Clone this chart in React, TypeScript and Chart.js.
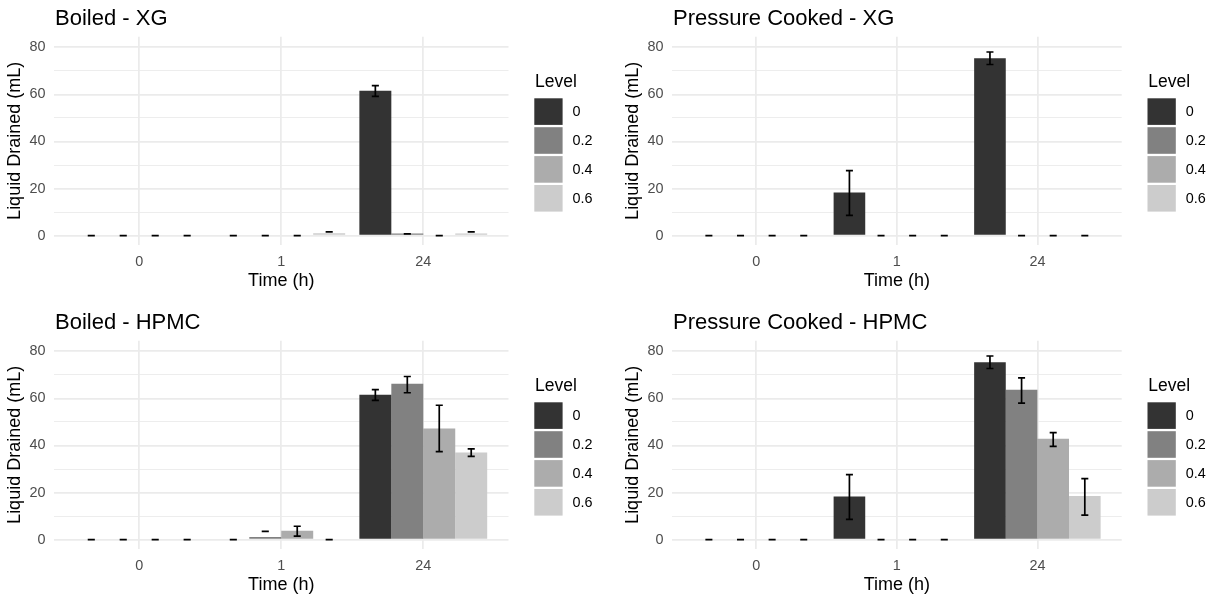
import React, { useEffect, useRef } from "react";
import { Chart, registerables } from "chart.js";

Chart.register(...registerables);

const FONT = '"Liberation Sans", Arial, Helvetica, sans-serif';

// x categories (sampling time) and fill levels
const timeLabels = ["0", "1", "24"];
const levelLabels = ["0", "0.2", "0.4", "0.6"];
const levelColors = ["#333333", "#818181", "#ACACAC", "#CCCCCC"];
const yTicks = [0, 10, 20, 30, 40, 50, 60, 70, 80];

// Boiled - XG: rows are levels, columns are times
const boiledXgMean = [
  [0, 0, 61.6],
  [0, 0, 0.9],
  [0, 0, 0],
  [0, 1.0, 0.9],
];
const boiledXgLow = [
  [0, 0, 59.2],
  [0, 0, 0.8],
  [0, 0, 0],
  [0, 1.6, 1.6],
];
const boiledXgHigh = [
  [0, 0, 63.7],
  [0, 0, 0.8],
  [0, 0, 0],
  [0, 1.6, 1.6],
];

// Pressure Cooked - XG
const pressureXgMean = [
  [0, 18.3, 75.4],
  [0, 0, 0],
  [0, 0, 0],
  [0, 0, 0],
];
const pressureXgLow = [
  [0, 8.6, 72.7],
  [0, 0, 0],
  [0, 0, 0],
  [0, 0, 0],
];
const pressureXgHigh = [
  [0, 27.6, 78.0],
  [0, 0, 0],
  [0, 0, 0],
  [0, 0, 0],
];

// Boiled - HPMC
const boiledHpmcMean = [
  [0, 0, 61.6],
  [0, 1.1, 66.2],
  [0, 3.8, 47.2],
  [0, 0, 37.0],
];
const boiledHpmcLow = [
  [0, 0, 59.2],
  [0, 3.5, 62.4],
  [0, 1.5, 37.4],
  [0, 0, 35.4],
];
const boiledHpmcHigh = [
  [0, 0, 63.7],
  [0, 3.5, 69.3],
  [0, 5.7, 57.1],
  [0, 0, 38.6],
];

// Pressure Cooked - HPMC
const pressureHpmcMean = [
  [0, 18.3, 75.4],
  [0, 0, 63.7],
  [0, 0, 42.9],
  [0, 0, 18.6],
];
const pressureHpmcLow = [
  [0, 8.6, 72.7],
  [0, 0, 58.0],
  [0, 0, 39.6],
  [0, 0, 10.4],
];
const pressureHpmcHigh = [
  [0, 27.6, 78.0],
  [0, 0, 68.7],
  [0, 0, 45.5],
  [0, 0, 25.9],
];

const AREA_LEFT = 54;
const AREA_TOP = 36.7;
const AREA_BOTTOM = 245;

// error bars (mean +/- spread) drawn on top of all bars
const errorBarPlugin = {
  id: "errorBars",
  afterDatasetsDraw(chart: any) {
    const { ctx } = chart;
    const y = chart.scales.y;
    ctx.save();
    ctx.strokeStyle = "#000000";
    ctx.lineWidth = 1.7;
    ctx.lineCap = "butt";
    chart.data.datasets.forEach((ds: any, di: number) => {
      const meta = chart.getDatasetMeta(di);
      meta.data.forEach((bar: any, i: number) => {
        const lo = y.getPixelForValue(ds.errLow[i]);
        const hi = y.getPixelForValue(ds.errHigh[i]);
        const half = (bar.width * (0.2 / 0.9)) / 2;
        ctx.beginPath();
        if (Math.abs(hi - lo) > 0.01) {
          ctx.moveTo(bar.x, lo);
          ctx.lineTo(bar.x, hi);
        }
        ctx.moveTo(bar.x - half, lo);
        ctx.lineTo(bar.x + half, lo);
        ctx.moveTo(bar.x - half, hi);
        ctx.lineTo(bar.x + half, hi);
        ctx.stroke();
      });
    });
    ctx.restore();
  },
};

// panel title, left aligned with the plotting area
const panelTitlePlugin = {
  id: "panelTitle",
  afterDraw(chart: any, _args: any, opts: any) {
    const { ctx, chartArea } = chart;
    ctx.save();
    ctx.font = `22px ${FONT}`;
    ctx.fillStyle = "#000000";
    ctx.textAlign = "left";
    ctx.textBaseline = "alphabetic";
    ctx.fillText(opts.text, chartArea.left + 1, 24.5);
    ctx.restore();
  },
};

// "Level" key with stacked fill swatches
const levelLegendPlugin = {
  id: "levelLegend",
  afterDraw(chart: any) {
    const { ctx, chartArea } = chart;
    const x0 = chartArea.right + 25.8;
    const y0 = chartArea.top;
    ctx.save();
    ctx.fillStyle = "#000000";
    ctx.font = `17.5px ${FONT}`;
    ctx.textAlign = "left";
    ctx.textBaseline = "alphabetic";
    ctx.fillText("Level", x0 + 0.7, y0 + 50);
    ctx.font = `14.4px ${FONT}`;
    ctx.textBaseline = "middle";
    chart.data.datasets.forEach((ds: any, i: number) => {
      const top = y0 + 61.6 + i * 28.9;
      ctx.fillStyle = ds.backgroundColor;
      ctx.fillRect(x0, top, 28.3, 26.6);
      ctx.fillStyle = "#000000";
      ctx.fillText(ds.label, x0 + 38.3, top + 13.8);
    });
    ctx.restore();
  },
};

type PanelProps = {
  title: string;
  mean: number[][];
  low: number[][];
  high: number[][];
  left: number;
  top: number;
  width: number;
  height: number;
  areaRight: number;
};

function Panel({ title, mean, low, high, left, top, width, height, areaRight }: PanelProps) {
  const canvasRef = useRef<HTMLCanvasElement | null>(null);

  useEffect(() => {
    if (!canvasRef.current) return;
    const chart = new Chart(canvasRef.current, {
      type: "bar",
      data: {
        datasets: levelLabels.map((label, li) => ({
          label,
          data: timeLabels.map((_, ti) => ({ x: ti + 1, y: mean[li][ti] })),
          errLow: low[li],
          errHigh: high[li],
          backgroundColor: levelColors[li],
          borderWidth: 0,
          categoryPercentage: 0.9,
          barPercentage: 1,
        })) as any,
      },
      options: {
        responsive: false,
        animation: false,
        devicePixelRatio: 1,
        events: [],
        layout: {
          padding: { left: 0, top: AREA_TOP, right: width - areaRight, bottom: 0 },
        },
        plugins: {
          legend: { display: false },
          tooltip: { enabled: false },
          panelTitle: { text: title },
        } as any,
        scales: {
          x: {
            type: "linear",
            min: 0.4,
            max: 3.6,
            offset: false,
            bounds: "data",
            grid: { color: "#EBEBEB", lineWidth: 1.75, drawTicks: false, offset: false },
            border: { display: false },
            ticks: {
              padding: 8.5,
              color: "#4D4D4D",
              font: { family: FONT, size: 14.4 },
              autoSkip: false,
              maxRotation: 0,
              callback: (v: any) => timeLabels[Number(v) - 1] ?? "",
            },
            afterBuildTicks: (s: any) => {
              s.ticks = timeLabels.map((_, i) => ({ value: i + 1 }));
            },
            afterFit: (s: any) => {
              s.height = height - AREA_BOTTOM;
            },
            title: {
              display: true,
              text: "Time (h)",
              color: "#000000",
              font: { family: FONT, size: 18 },
              padding: { top: 0, bottom: height - 281.5 - 10.8 },
            },
          },
          y: {
            type: "linear",
            min: -3.95,
            max: 84.5,
            bounds: "data",
            grid: {
              color: "#EBEBEB",
              lineWidth: (c: any) => (c.tick && c.tick.value % 20 === 0 ? 1.75 : 0.9),
              drawTicks: false,
            },
            border: { display: false },
            ticks: {
              padding: 8.5,
              color: "#4D4D4D",
              font: { family: FONT, size: 14.4 },
              autoSkip: false,
              callback: (v: any) => (Number(v) % 20 === 0 ? String(v) : ""),
            },
            afterBuildTicks: (s: any) => {
              s.ticks = yTicks.map((v) => ({ value: v }));
            },
            afterFit: (s: any) => {
              s.width = AREA_LEFT;
            },
            title: {
              display: true,
              text: "Liquid Drained (mL)",
              color: "#000000",
              font: { family: FONT, size: 18 },
              padding: { top: 4.5, bottom: 0 },
            },
          },
        },
      } as any,
      plugins: [errorBarPlugin, panelTitlePlugin, levelLegendPlugin],
    });
    return () => chart.destroy();
  }, [title, mean, low, high, width, height, areaRight]);

  return (
    <div style={{ position: "absolute", left, top, width, height }}>
      <canvas ref={canvasRef} width={width} height={height} style={{ display: "block" }} />
    </div>
  );
}

export default function App() {
  return (
    <div
      style={{
        position: "fixed",
        left: 0,
        top: 0,
        width: 1217,
        height: 603,
        overflow: "hidden",
        background: "#ffffff",
      }}
    >
      <Panel
        title="Boiled - XG"
        mean={boiledXgMean}
        low={boiledXgLow}
        high={boiledXgHigh}
        left={0}
        top={0}
        width={608}
        height={300}
        areaRight={508.5}
      />
      <Panel
        title="Pressure Cooked - XG"
        mean={pressureXgMean}
        low={pressureXgLow}
        high={pressureXgHigh}
        left={618}
        top={0}
        width={599}
        height={300}
        areaRight={503.7}
      />
      <Panel
        title="Boiled - HPMC"
        mean={boiledHpmcMean}
        low={boiledHpmcLow}
        high={boiledHpmcHigh}
        left={0}
        top={304}
        width={608}
        height={300}
        areaRight={508.5}
      />
      <Panel
        title="Pressure Cooked - HPMC"
        mean={pressureHpmcMean}
        low={pressureHpmcLow}
        high={pressureHpmcHigh}
        left={618}
        top={304}
        width={599}
        height={300}
        areaRight={503.7}
      />
    </div>
  );
}
